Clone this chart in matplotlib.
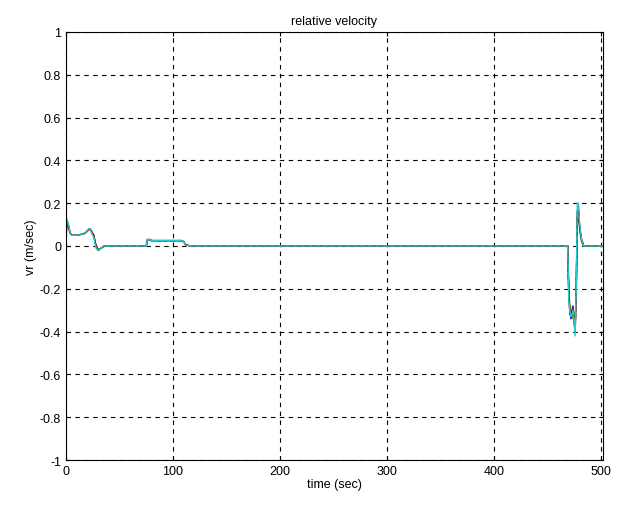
import numpy as np
import matplotlib.pyplot as plt

plt.rcParams['font.family'] = ['Liberation Sans', 'DejaVu Sans']

# time samples (sec)
t = [0, 0.5, 1, 2, 4, 6, 10, 15, 18, 21, 22, 24, 26, 28, 30, 33, 36,
     75, 76, 78, 80, 90, 100, 106, 108, 110, 112, 116,
     469, 469.5, 470, 471, 472, 473, 474, 475, 476, 477, 478, 479, 480,
     481, 482, 484, 486, 502]

# relative velocity of each run (m/sec)
vr_blue = [0, 0.10, 0.12, 0.10, 0.06, 0.05, 0.05, 0.055, 0.06, 0.075, 0.08, 0.065, 0.045, 0.0, -0.02, -0.01, 0,
           0, 0.028, 0.03, 0.025, 0.025, 0.025, 0.025, 0.025, 0.02, 0.005, 0,
           0, -0.12, -0.22, -0.30, -0.34, -0.30, -0.28, -0.33, -0.38, -0.22, 0.15, 0.18, 0.10,
           0.06, 0.03, 0, 0, 0]
vr_green = [0, 0.09, 0.11, 0.09, 0.06, 0.05, 0.05, 0.055, 0.06, 0.078, 0.08, 0.07, 0.05, 0.0, -0.015, -0.01, 0,
            0, 0.03, 0.03, 0.025, 0.025, 0.025, 0.025, 0.025, 0.02, 0.005, 0,
            0, -0.08, -0.20, -0.28, -0.32, -0.34, -0.30, -0.32, -0.36, -0.20, 0.12, 0.16, 0.09,
            0.05, 0.02, 0, 0, 0]
vr_red = [0, 0.11, 0.115, 0.09, 0.06, 0.05, 0.05, 0.055, 0.06, 0.075, 0.08, 0.065, 0.05, 0.0, -0.02, -0.01, 0,
          0, 0.03, 0.03, 0.025, 0.025, 0.025, 0.025, 0.025, 0.02, 0.005, 0,
          0, -0.10, -0.18, -0.32, -0.31, -0.33, -0.29, -0.36, -0.40, -0.25, 0.14, 0.17, 0.11,
          0.06, 0.03, 0, 0, 0]
vr_black = [0, 0.10, 0.12, 0.10, 0.06, 0.05, 0.05, 0.055, 0.06, 0.075, 0.08, 0.065, 0.045, 0.0, -0.02, -0.01, 0,
            0, 0.03, 0.03, 0.025, 0.025, 0.025, 0.025, 0.025, 0.02, 0.005, 0,
            0, -0.10, -0.22, -0.30, -0.33, -0.31, -0.30, -0.34, -0.40, -0.22, 0.16, 0.19, 0.10,
            0.06, 0.03, 0, 0, 0]
vr_cyan = [0, 0.11, 0.12, 0.11, 0.06, 0.05, 0.05, 0.055, 0.06, 0.08, 0.08, 0.06, 0.04, -0.01, -0.02, -0.01, 0,
           0, 0.03, 0.03, 0.025, 0.025, 0.025, 0.025, 0.025, 0.02, 0.005, 0,
           0, -0.10, -0.25, -0.30, -0.33, -0.32, -0.30, -0.35, -0.42, -0.20, 0.20, 0.20, 0.12,
           0.07, 0.03, 0, 0, 0]

fig = plt.figure(figsize=(6.2, 5.1), dpi=100)
ax = fig.add_axes([0.1065, 0.096, 0.866, 0.8395])

ax.plot(t, vr_blue, color='#0000ff', lw=1.0)
ax.plot(t, vr_green, color='#00a000', lw=1.0)
ax.plot(t, vr_red, color='#ff0000', lw=1.0)
ax.plot(t, vr_black, color='black', lw=0.9, ls=(0, (3, 3)))
ax.plot(t, vr_cyan, color='#22cccc', lw=1.0)

ax.set_xlim(0, 502)
ax.set_ylim(-1, 1)
ax.set_xticks(np.arange(0, 501, 100))
ax.set_yticks(np.round(np.arange(-1, 1.01, 0.2), 1))
ax.set_yticklabels(['-1', '-0.8', '-0.6', '-0.4', '-0.2', '0', '0.2', '0.4', '0.6', '0.8', '1'])
ax.grid(True, color='black', ls=(0, (4, 4)), lw=0.8)
ax.tick_params(direction='in', length=3, labelsize=9, top=True, right=True)
for s in ax.spines.values():
    s.set_linewidth(0.8)

ax.set_title('relative velocity', fontsize=9)
ax.set_xlabel('time (sec)', fontsize=9, labelpad=1)
ax.set_ylabel('vr (m/sec)', fontsize=9, labelpad=2)

fig.savefig('out.png', dpi=100)
